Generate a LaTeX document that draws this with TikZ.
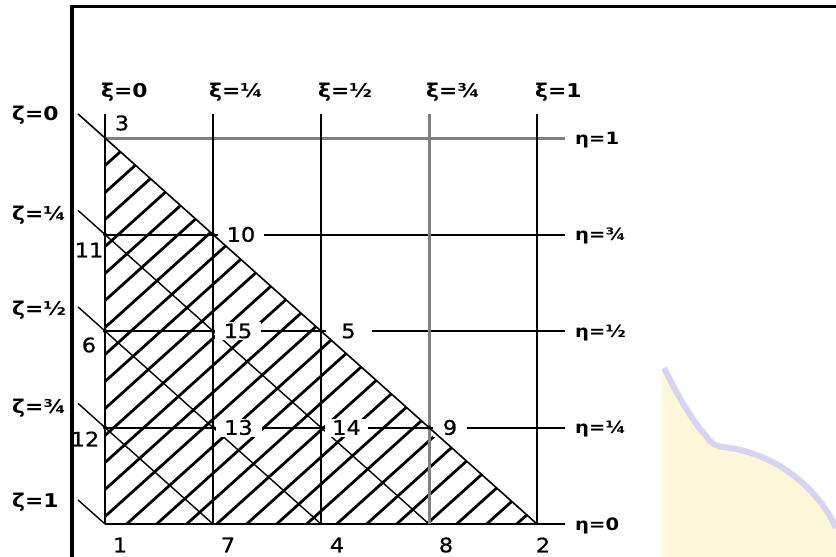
\documentclass[tikz,border=0pt]{standalone}
\usepackage{fontspec}
\setmainfont{DejaVu Sans}
\newfontfamily\numfont{DejaVu Sans}[FakeBold=0.8]
\usepackage{graphicx}
\newcommand{\stretchtxt}[1]{\scalebox{1.12}[1]{#1}}
\newcommand{\stretchaxis}[1]{\scalebox{1.15}[1]{#1}}
\definecolor{wmyellow}{HTML}{FFF7DA}
\definecolor{wmlav}{HTML}{D6D3F3}
\begin{document}
\begin{tikzpicture}[x=1pt,y=-1pt,
  gridline/.style={line width=2pt, black},
  graygrid/.style={line width=3pt, black!50},
  zline/.style={line width=1.4pt, black},
  hatchline/.style={line width=2.8pt, black},
  framebar/.style={line width=3.8pt, black},
  num/.style={font=\numfont\fontsize{20}{20}\selectfont, inner sep=0pt},
  numbox/.style={num, fill=white, minimum height=18pt, minimum width=46pt},
  axlab/.style={font=\bfseries\fontsize{19}{19}\selectfont, inner sep=0pt, anchor=base west},
  etalab/.style={font=\bfseries\fontsize{17}{17}\selectfont, inner sep=0pt, anchor=base west},
  dot/.style={circle, fill=black, inner sep=0pt, minimum size=4pt}
]
\useasboundingbox (0,0) rectangle (836,557);

% watermark (faint)
\fill[wmyellow] (662,372) .. controls (680,402) and (692,422) .. (706,437)
  .. controls (712,444) .. (722,447) .. controls (775,452) and (818,488) .. (836,528)
  -- (836,557) -- (662,557) -- cycle;
\draw[wmlav, line width=6pt] (664,368) .. controls (680,400) and (692,420) .. (706,436)
  .. controls (712,444) .. (722,447) .. controls (775,452) and (818,488) .. (836,528);

% grid coordinates
\coordinate (n1) at (105,524);  \coordinate (n7) at (213,524);
\coordinate (n4) at (321,524);  \coordinate (n8) at (429,524);
\coordinate (n2) at (537,524);
\coordinate (n12) at (105,427.5); \coordinate (n13) at (213,427.5);
\coordinate (n14) at (321,427.5); \coordinate (n9) at (429,427.5);
\coordinate (n6) at (105,331);  \coordinate (n15) at (213,331);
\coordinate (n5) at (321,331);
\coordinate (n11) at (105,234.5); \coordinate (n10) at (213,234.5);
\coordinate (n3) at (105,138);
% line ends
\coordinate (t0) at (105,114); \coordinate (t1) at (213,114);
\coordinate (t2) at (321,114); \coordinate (t3) at (429,114);
\coordinate (t4) at (537,114);
\coordinate (e0) at (565,524);   \coordinate (e1) at (565,427.5);
\coordinate (e2) at (565,331);   \coordinate (e3) at (565,234.5);
\coordinate (e4) at (565,138);
\coordinate (z0) at (78,113.9);  \coordinate (z1) at (78,210.4);
\coordinate (z2) at (78,306.9);  \coordinate (z3) at (78,403.4);
\coordinate (z4) at (78,499.9);

% hatching
\begin{scope}
  \clip (n3) -- (n1) -- (n2) -- cycle;
  \foreach \k in {-15,...,13}{
    \draw[hatchline] ({126.7+30*\k},524) -- ({126.7+30*\k+600},-16);
  }
\end{scope}

% zeta lines
\draw[zline] (z1) -- (n11) -- (n8);
\draw[zline] (z2) -- (n6) -- (n4);
\draw[zline] (z3) -- (n12) -- (n7);
\draw[zline] (z4) -- (n1);

% grid lines
\draw[gridline] (n1) -- (e0);
\draw[gridline] (n12) -- (e1);
\draw[gridline] (n6) -- (e2);
\draw[gridline] (n11) -- (e3);
\draw[graygrid] (n3) -- (e4);
\draw[gridline, line width=2.6pt] (t0) -- (n1);
\draw[gridline] (t1) -- (n7);
\draw[gridline] (t2) -- (n4);
\draw[graygrid] (t3) -- (n8);
\draw[gridline] (t4) -- (n2);

% interior node labels on white
\node[numbox] (l10) at (241,234.5) {\stretchtxt{10}};
\node[numbox] (l15) at (238,331) {\stretchtxt{15}};
\node[numbox] (l5)  at (348.5,331) {\stretchtxt{5}};
\node[numbox] (l13) at (238.5,427.5) {\stretchtxt{13}};
\node[numbox, minimum width=43pt] (l14) at (346.5,427.5) {\stretchtxt{14}};
\node[numbox, minimum width=34pt] (l9) at (450,427.5) {\stretchtxt{9}};

% hypotenuse (zeta = 0)
\draw[zline, line width=1.6pt] (z0) -- (n3) -- (n2);

% dots
\foreach \p in {n10,n15,n5,n13,n14,n9,n11,n6,n12}{
  \node[dot] at (\p) {};
}

% other node numbers
\node[num] (l3)  at (122,123) {\stretchtxt{3}};
\node[num] (l11) at (89,250) {\stretchtxt{11}};
\node[num] (l6)  at (89,345) {\stretchtxt{6}};
\node[num] (l12) at (85,439) {\stretchtxt{12}};
\node[num] (l1)  at (120,545) {\stretchtxt{1}};
\node[num] (l7)  at (228,545) {\stretchtxt{7}};
\node[num] (l4)  at (337,545) {\stretchtxt{4}};
\node[num] (l8)  at (446,545) {\stretchtxt{8}};
\node[num] (l2)  at (543,545) {\stretchtxt{2}};

% xi labels
\node[axlab] (x0) at (101,97) {\stretchaxis{ξ=0}};
\node[axlab] (x1) at (209,97) {\stretchaxis{ξ=¼}};
\node[axlab] (x2) at (318,97) {\stretchaxis{ξ=½}};
\node[axlab] (x3) at (426,97) {\stretchaxis{ξ=¾}};
\node[axlab] (x4) at (535,97) {\stretchaxis{ξ=1}};

% zeta labels
\node[axlab] (zl0) at (12,120) {\stretchaxis{ζ=0}};
\node[axlab] (zl1) at (12,220) {\stretchaxis{ζ=¼}};
\node[axlab] (zl2) at (12,315) {\stretchaxis{ζ=½}};
\node[axlab] (zl3) at (12,413) {\stretchaxis{ζ=¾}};
\node[axlab] (zl4) at (12,507) {\stretchaxis{ζ=1}};

% eta labels
\node[etalab] (h4) at (575,144.2) {\stretchaxis{η=1}};
\node[etalab] (h3) at (575,240.7) {\stretchaxis{η=¾}};
\node[etalab] (h2) at (575,337.2) {\stretchaxis{η=½}};
\node[etalab] (h1) at (575,433.7) {\stretchaxis{η=¼}};
\node[etalab] (h0) at (575,530.2) {\stretchaxis{η=0}};

% frame
\draw[framebar] (72,557) -- (72,6.5) -- (836,6.5);
\end{tikzpicture}
\end{document}
